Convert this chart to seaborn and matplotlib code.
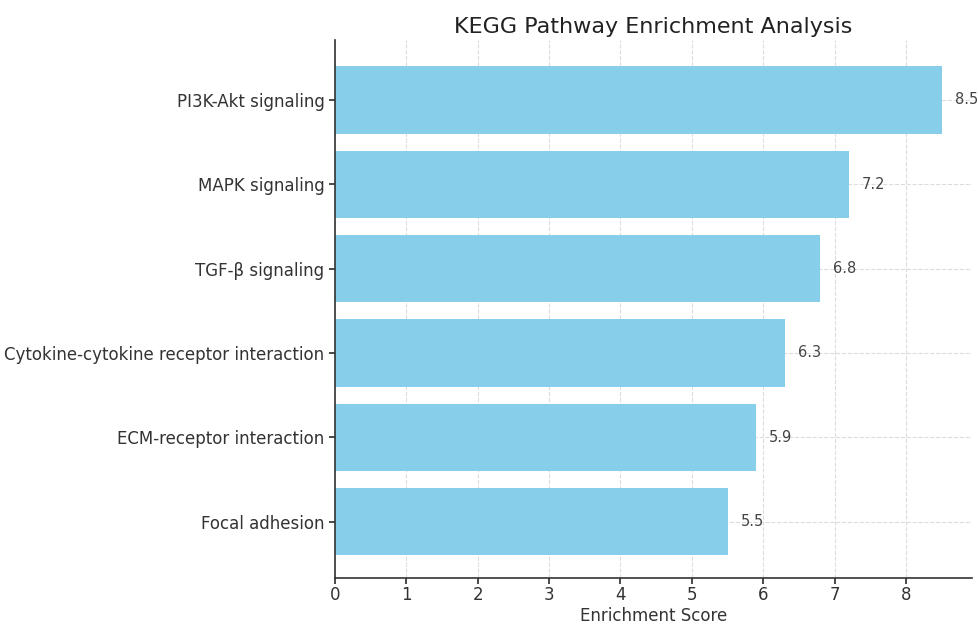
import matplotlib
matplotlib.use("Agg")
import matplotlib.pyplot as plt
import seaborn as sns
import pandas as pd

pathways = [
    "PI3K-Akt signaling",
    "MAPK signaling",
    "TGF-β signaling",
    "Cytokine-cytokine receptor interaction",
    "ECM-receptor interaction",
    "Focal adhesion",
]
scores = [8.5, 7.2, 6.8, 6.3, 5.9, 5.5]

df = pd.DataFrame({"Pathway": pathways, "Score": scores})

sns.set_theme(style="ticks")
plt.rcParams["font.family"] = ["DejaVu Sans"]

fig = plt.figure(figsize=(9.79, 6.27), dpi=100)
ax = fig.add_axes([0.342, 0.078, 0.651, 0.858])

sns.barplot(data=df, x="Score", y="Pathway", color="#87CEEB", saturation=1,
            width=0.8, linewidth=0, ax=ax, zorder=2)

n = len(pathways)
ax.set_xlim(0, max(scores) * 1.05)
ax.set_ylim(n - 0.33, -0.71)
ax.grid(True, linestyle="--", color="#dcdcdc", linewidth=0.8, zorder=0)
ax.set_axisbelow(True)

for i, v in enumerate(scores):
    ax.text(v + 0.18, i, f"{v}", va="center", ha="left", fontsize=10.5, color="#444444")

ax.set_title("KEGG Pathway Enrichment Analysis", fontsize=16, color="#222222", pad=5)
ax.set_xlabel("Enrichment Score", fontsize=12, color="#333333", labelpad=2)
ax.set_ylabel("")
ax.tick_params(axis="y", labelsize=12, colors="#333333", length=4)
ax.tick_params(axis="x", labelsize=12, colors="#333333", length=4, pad=2)
sns.despine(ax=ax)
for s in ("left", "bottom"):
    ax.spines[s].set_color("#333333")
    ax.spines[s].set_linewidth(1.2)

fig.savefig("out.png", dpi=100)
